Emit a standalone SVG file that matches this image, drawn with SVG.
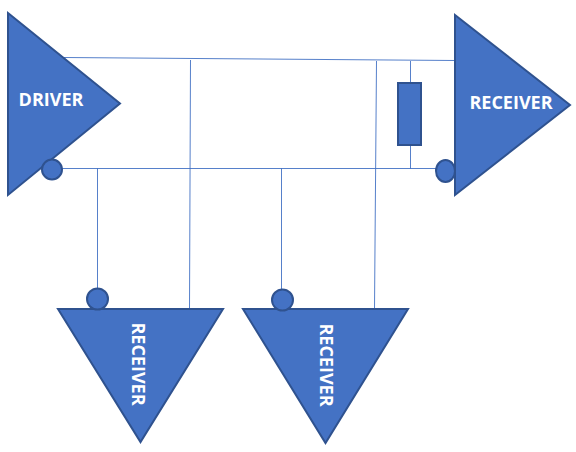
<svg xmlns="http://www.w3.org/2000/svg" width="576" height="452" viewBox="0 0 576 452">
<style>
.s{fill:#4472c4;stroke:#2f528f;stroke-width:2}
.w{fill:none;stroke:#4472c4;stroke-width:1;opacity:.9}
.t{fill:#fff;font-family:"Open Sans","Liberation Sans",sans-serif;font-weight:700;font-size:18px;text-anchor:middle}
</style>
<rect width="576" height="452" fill="#fff"/>
<g id="connectors">
<path class="w" d="M64 57.500L455 60.500"/>
<path class="w" d="M52 168.500H437"/>
<path class="w" d="M190.500 60L189.500 309"/>
<path class="w" d="M376.500 61L374.500 309"/>
<path class="w" d="M97.500 168V290"/>
<path class="w" d="M281.500 168V291"/>
<path class="w" d="M410.500 61V83M410.500 145V169"/>
</g>
<g id="driver">
<polygon class="s" points="8,13 120,103.500 8,195"/>
<circle class="s" cx="52" cy="169.500" r="10"/>
<text class="t" x="51" y="106">DRIVER</text>
</g>
<g id="receiver-right">
<polygon class="s" points="455,15 570,105 455,195"/>
<ellipse class="s" cx="445.500" cy="171" rx="9.500" ry="11"/>
<text class="t" x="511" y="109">RECEIVER</text>
</g>
<g id="resistor">
<rect class="s" x="398" y="83" width="23" height="62"/>
</g>
<g id="receiver-left">
<polygon class="s" points="58,309 223,309 140.500,442"/>
<circle class="s" cx="97.500" cy="299" r="10.500"/>
<text class="t" transform="translate(132,364) rotate(90)">RECEIVER</text>
</g>
<g id="receiver-middle">
<polygon class="s" points="243,309 408,309 325.500,443"/>
<circle class="s" cx="282.500" cy="300" r="10.500"/>
<text class="t" transform="translate(320,365) rotate(90)">RECEIVER</text>
</g>
</svg>
